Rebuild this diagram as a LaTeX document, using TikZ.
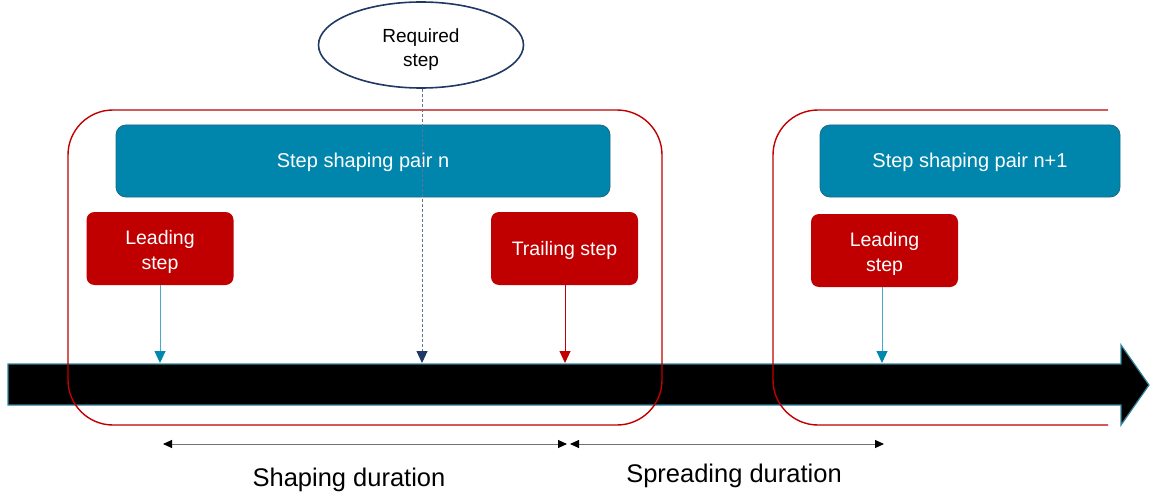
\documentclass[tikz,border=0pt]{standalone}
\usepackage{fontspec}
\setmainfont{Liberation Sans}
\usetikzlibrary{arrows.meta,shapes.geometric}
\definecolor{tealbox}{RGB}{0,133,172}
\definecolor{tealedge}{RGB}{25,105,135}
\definecolor{redbox}{RGB}{192,0,0}
\definecolor{navy}{RGB}{31,56,100}
\definecolor{lteal}{RGB}{70,170,200}
\definecolor{arrowteal}{RGB}{0,136,176}
\definecolor{tledge}{RGB}{49,132,155}
\newcommand{\dnstrut}{\rule{0pt}{22pt}}
\newcommand{\smstrut}{\rule{0pt}{17.5pt}}
\tikzset{
  pairbox/.style={draw=tealedge, line width=0.8pt, fill=tealbox, rounded corners=10pt, text=white, font=\fontsize{20}{24}\selectfont, inner sep=0pt},
  stepbox/.style={fill=redbox, rounded corners=8pt, text=white, font=\fontsize{19.5}{25}\selectfont, align=center, minimum width=147pt, minimum height=73pt, inner sep=0pt},
  groupline/.style={draw=redbox, line width=1.4pt},
  drop/.style={line width=0.9pt, -{Triangle[length=12pt,width=11pt]}},
  tealdrop/.style={line width=0.9pt, draw=lteal, arrows={-{Triangle[length=12pt,width=11pt,fill=arrowteal,color=arrowteal]}}},
  dim/.style={draw=black!55, line width=0.9pt, {Triangle[black,length=9pt,width=8pt]}-{Triangle[black,length=9pt,width=8pt]}},
  lbl/.style={font=\fontsize{25.5}{28}\selectfont}
}
\begin{document}
\begin{tikzpicture}[x=1pt,y=-1pt]
\useasboundingbox (0,0) rectangle (1150,492);
% timeline arrow
\fill[black, draw=tledge, line width=1.2pt] (8,364) -- (1121,364) -- (1121,345) -- (1149,385) -- (1121,425) -- (1121,405) -- (8,405) -- cycle;
\coordinate (t1) at (160,363);
\coordinate (t2) at (422,363);
\coordinate (t3) at (565,363);
\coordinate (t4) at (882,363);
% groups
\draw[groupline, rounded corners=45pt] (68,110) rectangle (662,425);
\draw[groupline, rounded corners=45pt] (1108,110) -- (773,110) -- (773,425) -- (1108,425);
% boxes
\node[pairbox, minimum width=494pt, minimum height=72pt] (p1) at (363,161) {\smstrut Step shaping pair n};
\node[pairbox, minimum width=300pt, minimum height=72pt] (p2) at (970,161) {\smstrut Step shaping pair n+1};
\node[stepbox] (l1) at (160,248.5) {\dnstrut Leading\\step};
\node[stepbox] (tr) at (564.5,248.5) {\smstrut Trailing step};
\node[stepbox] (l2) at (884.5,250.5) {\dnstrut Leading\\step};
\node[draw=navy, line width=1.6pt, ellipse, minimum width=205pt, minimum height=86pt, align=center, font=\fontsize{19}{24}\selectfont, inner sep=0pt] (req) at (421,45) {\rule{0pt}{22pt}Required\\step};
% drops
\draw[tealdrop] (l1.south -| t1) -- (t1);
\draw[line width=0.9pt, draw=navy!70, dash pattern=on 3pt off 2pt, arrows={-{Triangle[length=12pt,width=11pt,fill=navy,color=navy]}}] (req.south -| t2) -- (t2);
\draw[drop, draw=redbox, fill=redbox] (tr.south -| t3) -- (t3);
\draw[tealdrop] (l2.south -| t4) -- (t4);
% durations
\coordinate (d1) at (163,444);
\coordinate (d2) at (567,444);
\coordinate (d3) at (570,444);
\coordinate (d4) at (884,444);
\draw[dim] (d1) -- (d2);
\draw[dim] (d3) -- (d4);
\node[lbl] (s1) at (349,480) {Shaping duration};
\node[lbl] (s2) at (734,476) {Spreading duration};
\end{tikzpicture}
\end{document}
